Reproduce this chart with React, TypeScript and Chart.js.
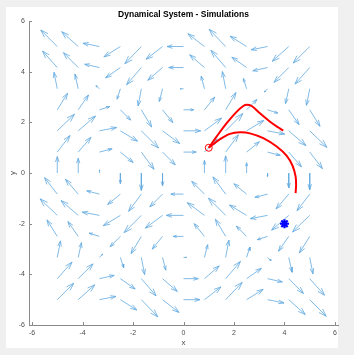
import React, { useEffect, useRef } from 'react';
import { Chart, registerables } from 'chart.js';
Chart.register(...registerables);

const titleText = 'Dynamical System - Simulations';
const xTicks = [-6, -4, -2, 0, 2, 4, 6];
const yTicks = [-6, -4, -2, 0, 2, 4, 6];

// quiver grid (tail positions)
const gridX = [-5, -4.17, -3.33, -2.5, -1.67, -0.83, 0, 0.83, 1.67, 2.5, 3.33, 4.17, 5];
const gridY = [-5, -4.17, -3.33, -2.5, -1.67, -0.83, 0, 0.83, 1.67, 2.5, 3.33, 4.17, 5];

// horizontal component, U[row = y index][col = x index]
const U = [
  [0.96, 0.96, 0.96, 0.96, 0.96, 0.96, 0.96, 0.96, 0.96, 0.96, 0.96, 0.96, 0.96],
  [0.86, 0.86, 0.86, 0.86, 0.86, 0.86, 0.86, 0.86, 0.86, 0.86, 0.86, 0.86, 0.86],
  [0.19, 0.19, 0.19, 0.19, 0.19, 0.19, 0.19, 0.19, 0.19, 0.19, 0.19, 0.19, 0.19],
  [-0.6, -0.6, -0.6, -0.6, -0.6, -0.6, -0.6, -0.6, -0.6, -0.6, -0.6, -0.6, -0.6],
  [-1, -1, -1, -1, -1, -1, -1, -1, -1, -1, -1, -1, -1],
  [-0.74, -0.74, -0.74, -0.74, -0.74, -0.74, -0.74, -0.74, -0.74, -0.74, -0.74, -0.74, -0.74],
  [0, 0, 0, 0, 0, 0, 0, 0, 0, 0, 0, 0, 0],
  [0.74, 0.74, 0.74, 0.74, 0.74, 0.74, 0.74, 0.74, 0.74, 0.74, 0.74, 0.74, 0.74],
  [1, 1, 1, 1, 1, 1, 1, 1, 1, 1, 1, 1, 1],
  [0.6, 0.6, 0.6, 0.6, 0.6, 0.6, 0.6, 0.6, 0.6, 0.6, 0.6, 0.6, 0.6],
  [-0.19, -0.19, -0.19, -0.19, -0.19, -0.19, -0.19, -0.19, -0.19, -0.19, -0.19, -0.19, -0.19],
  [-0.86, -0.86, -0.86, -0.86, -0.86, -0.86, -0.86, -0.86, -0.86, -0.86, -0.86, -0.86, -0.86],
  [-0.96, -0.96, -0.96, -0.96, -0.96, -0.96, -0.96, -0.96, -0.96, -0.96, -0.96, -0.96, -0.96],
];

// vertical component, V[row = y index][col = x index]
const V = [
  [0.96, 0.86, 0.19, -0.6, -1, -0.74, 0, 0.74, 1, 0.6, -0.19, -0.86, -0.96],
  [0.96, 0.86, 0.19, -0.6, -1, -0.74, 0, 0.74, 1, 0.6, -0.19, -0.86, -0.96],
  [0.96, 0.86, 0.19, -0.6, -1, -0.74, 0, 0.74, 1, 0.6, -0.19, -0.86, -0.96],
  [0.96, 0.86, 0.19, -0.6, -1, -0.74, 0, 0.74, 1, 0.6, -0.19, -0.86, -0.96],
  [0.96, 0.86, 0.19, -0.6, -1, -0.74, 0, 0.74, 1, 0.6, -0.19, -0.86, -0.96],
  [0.96, 0.86, 0.19, -0.6, -1, -0.74, 0, 0.74, 1, 0.6, -0.19, -0.86, -0.96],
  [0.96, 0.86, 0.19, -0.6, -1, -0.74, 0, 0.74, 1, 0.6, -0.19, -0.86, -0.96],
  [0.96, 0.86, 0.19, -0.6, -1, -0.74, 0, 0.74, 1, 0.6, -0.19, -0.86, -0.96],
  [0.96, 0.86, 0.19, -0.6, -1, -0.74, 0, 0.74, 1, 0.6, -0.19, -0.86, -0.96],
  [0.96, 0.86, 0.19, -0.6, -1, -0.74, 0, 0.74, 1, 0.6, -0.19, -0.86, -0.96],
  [0.96, 0.86, 0.19, -0.6, -1, -0.74, 0, 0.74, 1, 0.6, -0.19, -0.86, -0.96],
  [0.96, 0.86, 0.19, -0.6, -1, -0.74, 0, 0.74, 1, 0.6, -0.19, -0.86, -0.96],
  [0.96, 0.86, 0.19, -0.6, -1, -0.74, 0, 0.74, 1, 0.6, -0.19, -0.86, -0.96],
];

// simulated trajectories
const sim1X = [1, 1.31, 1.71, 2.11, 2.37, 2.5, 2.7, 3.03, 3.43, 3.76, 3.95];
const sim1Y = [1, 1.44, 1.97, 2.43, 2.65, 2.7, 2.65, 2.36, 2.03, 1.8, 1.68];
const sim2X = [1, 1.45, 1.84, 2.24, 2.63, 3.16, 3.69, 4.09, 4.32, 4.44, 4.46, 4.44];
const sim2Y = [1, 1.34, 1.55, 1.61, 1.57, 1.38, 1.05, 0.68, 0.29, -0.13, -0.46, -0.79];

const startX = [1];
const startY = [1];
const targetX = [4];
const targetY = [-2];

const ARROW_SCALE = 0.68;
const HEAD_A = 0.33;
const HEAD_B = 0.33;

const bgPlugin = {
  id: 'bg',
  beforeDraw(chart: any) {
    const ctx = chart.ctx;
    ctx.save();
    ctx.fillStyle = '#f0f0f0';
    ctx.fillRect(0, 0, chart.width, chart.height);
    ctx.fillStyle = '#ffffff';
    ctx.fillRect(6, 7, 332, 341);
    ctx.restore();
  },
};

const tickPlugin = {
  id: 'inticks',
  afterDraw(chart: any) {
    const ctx = chart.ctx;
    const xs = chart.scales.x;
    const ys = chart.scales.y;
    const area = chart.chartArea;
    ctx.save();
    ctx.strokeStyle = '#8a8a8a';
    ctx.lineWidth = 1;
    ctx.beginPath();
    xTicks.forEach((v) => {
      const p = Math.round(xs.getPixelForValue(v)) + 0.5;
      ctx.moveTo(p, area.bottom);
      ctx.lineTo(p, area.bottom - 3);
    });
    yTicks.forEach((v) => {
      const p = Math.round(ys.getPixelForValue(v)) + 0.5;
      ctx.moveTo(area.left, p);
      ctx.lineTo(area.left + 3, p);
    });
    ctx.stroke();
    ctx.restore();
  },
};

export default function App() {
  const ref = useRef<HTMLCanvasElement>(null);
  useEffect(() => {
    document.body.style.margin = '0';
    const quiver: any[] = [];
    for (let j = 0; j < gridY.length; j++) {
      for (let i = 0; i < gridX.length; i++) {
        const x0 = gridX[i];
        const y0 = gridY[j];
        const su = U[j][i] * ARROW_SCALE;
        const sv = V[j][i] * ARROW_SCALE;
        if (su === 0 && sv === 0) continue;
        const tx = x0 + su;
        const ty = y0 + sv;
        quiver.push(
          { x: x0, y: y0 },
          { x: tx, y: ty },
          { x: tx, y: null },
          { x: tx - HEAD_A * (su + HEAD_B * sv), y: ty - HEAD_A * (sv - HEAD_B * su) },
          { x: tx, y: ty },
          { x: tx - HEAD_A * (su - HEAD_B * sv), y: ty - HEAD_A * (sv + HEAD_B * su) },
          { x: tx, y: null }
        );
      }
    }
    const toPts = (xs: number[], ys: number[]) => xs.map((x, i) => ({ x, y: ys[i] }));
    const font = 'Liberation Sans, Arial, Helvetica, sans-serif';

    const chart = new Chart(ref.current as HTMLCanvasElement, {
      type: 'scatter',
      data: {
        datasets: [
          {
            label: 'start',
            data: toPts(startX, startY),
            pointStyle: 'circle',
            pointRadius: 3.5,
            borderColor: '#ff0000',
            backgroundColor: 'rgba(0,0,0,0)',
            borderWidth: 1,
            showLine: false,
          },
          {
            label: 'target',
            data: toPts(targetX, targetY),
            pointStyle: 'star',
            pointRadius: 4.5,
            borderColor: '#0000ff',
            backgroundColor: '#0000ff',
            borderWidth: 2.2,
            showLine: false,
          },
          {
            label: 'sim1',
            data: toPts(sim1X, sim1Y),
            showLine: true,
            borderColor: '#ff0000',
            borderWidth: 2,
            pointRadius: 0,
            tension: 0.35,
          },
          {
            label: 'sim2',
            data: toPts(sim2X, sim2Y),
            showLine: true,
            borderColor: '#ff0000',
            borderWidth: 2,
            pointRadius: 0,
            tension: 0.35,
          },
          {
            label: 'field',
            data: quiver,
            showLine: true,
            spanGaps: false,
            borderColor: '#62a9df',
            borderWidth: 0.8,
            pointRadius: 0,
            tension: 0,
          },
        ],
      },
      options: {
        animation: false,
        responsive: false,
        events: [],
        layout: { padding: { left: 0, right: 16, top: 0, bottom: 0 } },
        plugins: {
          legend: { display: false },
          tooltip: { enabled: false },
          title: {
            display: true,
            fullSize: false,
            text: titleText,
            color: '#000000',
            font: { family: font, size: 8.5, weight: 'bold' },
            padding: { top: 10, bottom: 1 },
          },
        },
        scales: {
          x: {
            type: 'linear',
            min: -6.12,
            max: 6.12,
            afterBuildTicks: (s: any) => {
              s.ticks = xTicks.map((v) => ({ value: v }));
            },
            afterFit: (s: any) => {
              s.height = 30;
            },
            grid: { display: false, drawTicks: false },
            border: { display: true, color: '#8a8a8a', width: 1 },
            ticks: { color: '#4d4d4d', font: { family: font, size: 7 }, padding: 4, maxRotation: 0, autoSkip: false },
            title: { display: true, text: 'x', color: '#4d4d4d', font: { family: font, size: 8 }, padding: { top: 0, bottom: 7.5 } },
          },
          y: {
            type: 'linear',
            min: -6,
            max: 6,
            afterBuildTicks: (s: any) => {
              s.ticks = yTicks.map((v) => ({ value: v }));
            },
            afterFit: (s: any) => {
              s.width = 29;
            },
            grid: { display: false, drawTicks: false },
            border: { display: true, color: '#8a8a8a', width: 1 },
            ticks: { color: '#4d4d4d', font: { family: font, size: 7 }, padding: 4, autoSkip: false },
            title: { display: true, text: 'y', color: '#4d4d4d', font: { family: font, size: 8 }, padding: { top: 8, bottom: 0 } },
          },
        },
      },
      plugins: [bgPlugin, tickPlugin],
    } as any);
    return () => chart.destroy();
  }, []);
  return (
    <div style={{ width: 354, height: 355 }}>
      <canvas ref={ref} width={354} height={355} style={{ display: 'block', width: 354, height: 355 }} />
    </div>
  );
}
